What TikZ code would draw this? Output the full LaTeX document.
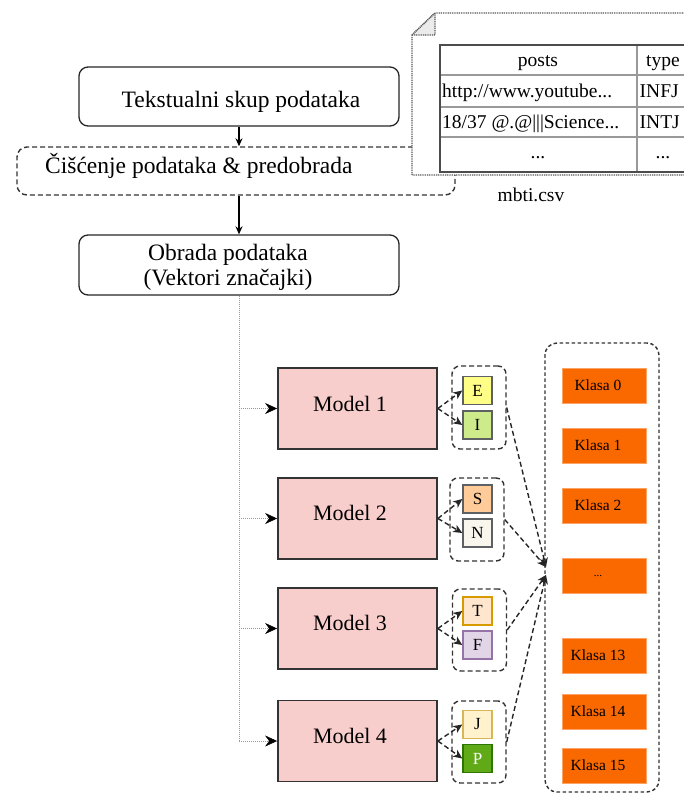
\documentclass[tikz,border=0pt]{standalone}
\usepackage{fontspec}
\setmainfont{Liberation Serif}
\usetikzlibrary{arrows.meta}
\definecolor{pinkf}{HTML}{F8CECC}
\definecolor{orangek}{HTML}{FA6800}
\definecolor{eyel}{HTML}{FFFF88}
\definecolor{igrn}{HTML}{CDEB8B}
\definecolor{sorg}{HTML}{FFCC99}
\definecolor{nwht}{HTML}{F9F7ED}
\definecolor{strk}{HTML}{36393D}
\definecolor{tfill}{HTML}{FFE6CC}
\definecolor{tdraw}{HTML}{D79B00}
\definecolor{ffill}{HTML}{E1D5E7}
\definecolor{fdraw}{HTML}{9673A6}
\definecolor{jfill}{HTML}{FFF2CC}
\definecolor{jdraw}{HTML}{D6B656}
\definecolor{pfill}{HTML}{60A917}
\definecolor{pdraw}{HTML}{2D7600}
\begin{document}
\begin{tikzpicture}[x=1pt,y=-1pt,
  bigtxt/.style={font=\fontsize{23.5}{25.5}\selectfont, inner sep=0pt, text=black},
  modtxt/.style={font=\fontsize{22}{24}\selectfont, inner sep=0pt, text=black},
  tabtxt/.style={font=\fontsize{19.5}{21}\selectfont, inner sep=0pt, text=black},
  rbox/.style={draw=black!85, line width=1.3pt, rounded corners=9pt, fill=white, inner sep=0pt},
  dbox/.style={draw=black!80, line width=1.4pt, dash pattern=on 5pt off 3pt, rounded corners=10pt, inner sep=0pt},
  model/.style={draw=black!80, line width=1.8pt, fill=pinkf, minimum width=159pt, minimum height=81pt, inner sep=0pt},
  letter/.style={minimum width=29pt, minimum height=28pt, line width=1.4pt, inner sep=0pt, font=\fontsize{17}{17}\selectfont},
  klasa/.style={fill=orangek, draw=orangek!60!white, line width=0.8pt, minimum width=84pt, minimum height=35pt, inner sep=0pt, font=\fontsize{15.5}{16}\selectfont, execute at begin node={\kern-12pt}},
  mainarr/.style={draw=black, line width=1.3pt, -{Stealth[length=8pt,width=7pt]}},
  dotline/.style={draw=black!40, line width=1pt, dash pattern=on 1pt off 1pt},
  dotarr/.style={dotline, -{Stealth[length=12pt,width=11pt,inset=4pt,color=black,fill=black,line width=0.5pt]}},
  darr/.style={draw=black!85, line width=1.4pt, dash pattern=on 5pt off 3pt, -{Stealth[length=9pt,width=8pt,inset=2.5pt]}},
  filedot/.style={draw=black!65, line width=1.4pt, dash pattern=on 1pt off 0.8pt}
]
\useasboundingbox (0,0) rectangle (684,793);

% cleaning box (partly covered by the file)
\node[dbox, minimum width=438pt, minimum height=48pt] (clean) at (236,171) {};
\node[bigtxt, anchor=base west] (cleantxt) at (45,173) {Čišćenje podataka \& predobrada};

% file with table
\draw[filedot, fill=white] (412,35) -- (435,13) -- (700,13) -- (700,175) -- (412,175) -- cycle;
\draw[filedot, fill=black!8] (412,35) -- (435,13) -- (435,35) -- cycle;
\draw[draw=black!40, line width=1.2pt] (440,75) -- (690,75) (440,107) -- (690,107) (440,137) -- (690,137) (637,45) -- (637,172);
\draw[draw=black!70, line width=1.8pt] (440,45) rectangle (690,172);
\node[tabtxt, anchor=base] (hposts) at (538,66.7) {posts};
\node[tabtxt, anchor=base] (htype) at (663,66.7) {type};
\node[tabtxt, anchor=base west] (r1a) at (442,97) {http://www.youtube...};
\node[tabtxt, anchor=base west] (r1b) at (639.5,97) {INFJ};
\node[tabtxt, anchor=base west] (r2a) at (442,128) {18/37 @.@|||Science...};
\node[tabtxt, anchor=base west] (r2b) at (639.5,128) {INTJ};
\node[tabtxt, anchor=base] (r3a) at (538,158) {...};
\node[tabtxt, anchor=base] (r3b) at (663,158) {...};
\node[tabtxt, anchor=base] (csv) at (531,201.7) {mbti.csv};

% top boxes
\node[rbox, minimum width=320pt, minimum height=59pt] (t1) at (239,96.5) {};
\node[bigtxt, anchor=base] (t1txt) at (241,107) {Tekstualni skup podataka};
\node[rbox, minimum width=320pt, minimum height=60pt] (obr) at (239,265) {};
\node[bigtxt, align=center] (obrtxt) at (228,267.5) {Obrada podataka\\(Vektori značajki)};

\draw[mainarr] (t1.south) -- (t1.south |- clean.north);
\draw[mainarr] (obr.north |- clean.south) -- (obr.north);

% models
\node[model] (m1) at (357.5,408.5) {};
\node[model] (m2) at (357.5,518.5) {};
\node[model] (m3) at (357.5,628.5) {};
\node[model] (m4) at (357.5,741) {};
\node[modtxt, anchor=base] (mt1) at (350,411) {Model 1};
\node[modtxt, anchor=base] (mt2) at (350,520.5) {Model 2};
\node[modtxt, anchor=base] (mt3) at (350,630.5) {Model 3};
\node[modtxt, anchor=base] (mt4) at (350,743) {Model 4};

% trunk and branches
\draw[dotline] (obr.south) -- (obr.south |- m4.west);
\draw[dotarr] (obr.south |- m1.west) -- (m1.west);
\draw[dotarr] (obr.south |- m2.west) -- (m2.west);
\draw[dotarr] (obr.south |- m3.west) -- (m3.west);
\draw[dotarr] (obr.south |- m4.west) -- (m4.west);

% letter groups
\node[dbox, rounded corners=8pt, minimum width=54pt, minimum height=83pt] (g1) at (479,407.5) {};
\node[dbox, rounded corners=8pt, minimum width=54pt, minimum height=83pt] (g2) at (477,519.5) {};
\node[dbox, rounded corners=8pt, minimum width=54pt, minimum height=82pt] (g3) at (479.5,630) {};
\node[dbox, rounded corners=8pt, minimum width=54pt, minimum height=82pt] (g4) at (479,742) {};

\node[letter, fill=eyel, draw=strk!80] (e1) at (477.5,390.5) {E};
\node[letter, fill=igrn, draw=strk!80] (i1) at (477.5,425) {I};
\node[letter, fill=sorg, draw=strk!80] (s2) at (477.5,499) {S};
\node[letter, fill=nwht, draw=strk!80] (n2) at (477.5,533) {N};
\node[letter, fill=tfill, draw=tdraw] (t3) at (477.5,611) {T};
\node[letter, fill=ffill, draw=fdraw] (f3) at (477.5,645) {F};
\node[letter, fill=jfill, draw=jdraw] (j4) at (477.5,724.5) {J};
\node[letter, fill=pfill, draw=pdraw, text=white] (p4) at (477.5,758.5) {P};

\draw[darr] (m1.east) -- (e1.west);
\draw[darr] (m1.east) -- (i1.west);
\draw[darr] (m2.east) -- (s2.west);
\draw[darr] (m2.east) -- (n2.west);
\draw[darr] (m3.east) -- (t3.west);
\draw[darr] (m3.east) -- (f3.west);
\draw[darr] (m4.east) -- (j4.west);
\draw[darr] (m4.east) -- (p4.west);

% classes
\node[dbox, dash pattern=on 3.5pt off 2.5pt, rounded corners=12pt, minimum width=114pt, minimum height=449pt] (kbox) at (602,567.5) {};
\node[klasa] (k0) at (604,385.5) {Klasa 0};
\node[klasa] (k1) at (604,445.5) {Klasa 1};
\node[klasa] (k2) at (604,505.5) {Klasa 2};
\node[klasa, font=\fontsize{11}{12}\selectfont] (kd) at (604,575.5) {...};
\node[klasa] (k13) at (604,655.5) {Klasa 13};
\node[klasa] (k14) at (604,711.5) {Klasa 14};
\node[klasa] (k15) at (604,765.5) {Klasa 15};

\coordinate (tgtA) at (546,567);
\coordinate (tgtB) at (546,575);
\draw[darr] (g1.east) -- (tgtA);
\draw[darr] (g2.east) -- (tgtA);
\draw[darr] (g3.east) -- (tgtB);
\draw[darr] (g4.east) -- (tgtB);
\end{tikzpicture}
\end{document}
